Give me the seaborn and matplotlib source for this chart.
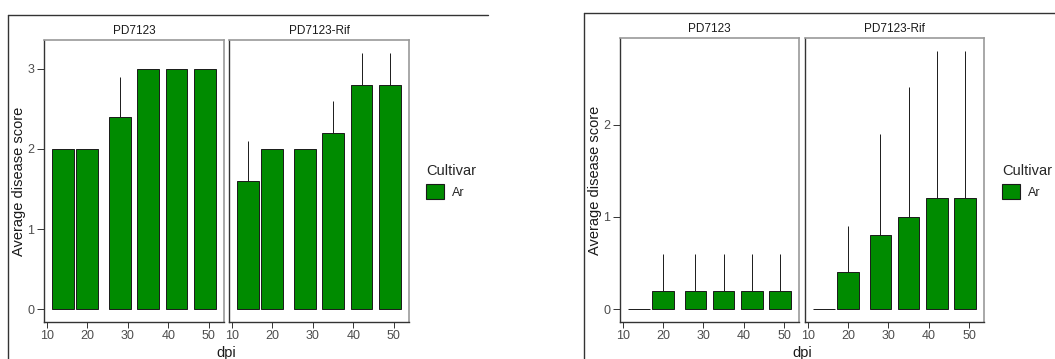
import numpy as np
import pandas as pd
import matplotlib
matplotlib.use('Agg')
import matplotlib.pyplot as plt
from matplotlib.lines import Line2D
from matplotlib.patches import Patch
import seaborn as sns

# data
dpi = [14, 20, 28, 35, 42, 49]
strains = ['PD7123', 'PD7123-Rif']
cultivar = 'Ar'

# left chart
left_pd7123 = [2.0, 2.0, 2.4, 3.0, 3.0, 3.0]
left_pd7123_se = [0, 0, 0.5, 0, 0, 0]
left_rif = [1.6, 2.0, 2.0, 2.2, 2.8, 2.8]
left_rif_se = [0.5, 0, 0, 0.4, 0.4, 0.4]

# right chart
right_pd7123 = [0.0, 0.2, 0.2, 0.2, 0.2, 0.2]
right_pd7123_se = [0, 0.4, 0.4, 0.4, 0.4, 0.4]
right_rif = [0.0, 0.4, 0.8, 1.0, 1.2, 1.2]
right_rif_se = [0, 0.5, 1.1, 1.41, 1.6, 1.6]

GREEN = '#008B00'
DARK = '#333333'
TEXT = '#4D4D4D'
W, H = 1055, 359

sns.set_style('white')
plt.rcParams['font.family'] = ['Liberation Sans', 'DejaVu Sans']

fig = plt.figure(figsize=(W / 100, H / 100), dpi=100)


def px_axes(x0, y0, x1, y1):
    return fig.add_axes([x0 / W, 1 - y1 / H, (x1 - x0) / W, (y1 - y0) / H])


def draw_chart(boxes, means, ses, yticks, ylab_x, leg_x, frame):
    ymax = max(max(np.add(m, s)) for m, s in zip(means, ses))
    ylim = (-0.05 * ymax, ymax * 1.05)
    half = 0.45 * min(np.diff(dpi))
    span = max(dpi) - min(dpi) + 2 * half
    xlim = (min(dpi) - half - 0.05 * span, max(dpi) + half + 0.05 * span)

    for i, (box, m, s, strain) in enumerate(zip(boxes, means, ses, strains)):
        ax = px_axes(*box)
        df = pd.DataFrame({'dpi': dpi, 'score': m, 'se': s, 'Cultivar': cultivar})
        # error bars (upper half only, like the original)
        err = df[df['se'] > 0]
        ax.vlines(err['dpi'], err['score'], err['score'] + err['se'],
                  color='#1a1a1a', lw=0.7, zorder=1)
        sns.barplot(data=df, x='dpi', y='score', hue='Cultivar', palette=[GREEN],
                    saturation=1, native_scale=True, width=0.9, dodge=False,
                    errorbar=None, edgecolor='#1a1a1a', linewidth=0.7,
                    legend=False, ax=ax, zorder=2)
        ax.set_xlim(*xlim)
        ax.set_ylim(*ylim)
        ax.set_xticks([10, 20, 30, 40, 50])
        ax.set_xlabel('')
        ax.set_ylabel('')
        ax.tick_params(axis='x', bottom=True, length=4, width=0.7, color=DARK,
                       labelsize=9, labelcolor=TEXT, pad=2)
        if i == 0:
            ax.set_yticks(yticks)
            ax.tick_params(axis='y', left=True, length=5, width=0.7, color=DARK,
                           labelsize=9, labelcolor=TEXT, pad=2)
        else:
            ax.set_yticks([])
        for side in ['left', 'bottom']:
            ax.spines[side].set_color(DARK)
            ax.spines[side].set_linewidth(1.0)
        for side in ['top', 'right']:
            ax.spines[side].set_color('#9a9a9a')
            ax.spines[side].set_linewidth(1.2)
        ax.set_title(strain, fontsize=8.5, color='#1a1a1a', pad=4)

    x_mid = (boxes[0][0] + boxes[1][2]) / 2
    y_mid = (boxes[0][1] + boxes[0][3]) / 2
    fig.text(ylab_x / W, 1 - y_mid / H, 'Average disease score', rotation=90,
             ha='center', va='center', fontsize=10.5, color='#1a1a1a')
    fig.text(x_mid / W, 1 - 357 / H, 'dpi', ha='center', va='baseline',
             fontsize=10.5, color='#1a1a1a')

    handle = Patch(facecolor=GREEN, edgecolor='#1a1a1a', linewidth=0.8)
    leg = fig.legend([handle], [cultivar], title='Cultivar', loc='upper left',
                     bbox_to_anchor=(leg_x / W, 1 - 164 / H), frameon=False,
                     fontsize=9, title_fontsize=10.5, borderpad=0,
                     handlelength=1.45, handleheight=1.45, handletextpad=0.6,
                     borderaxespad=0)
    leg._legend_box.align = 'left'

    fx, fy, fx1 = frame
    fig.add_artist(Line2D([fx / W, fx1 / W], [1 - fy / H, 1 - fy / H],
                          color=DARK, lw=1.0))
    fig.add_artist(Line2D([fx / W, fx / W], [1 - fy / H, 0], color=DARK, lw=1.0))


draw_chart([(44, 40, 224, 322), (229, 40, 409, 322)],
           [left_pd7123, left_rif], [left_pd7123_se, left_rif_se],
           [0, 1, 2, 3], 19, 426, (7.5, 14.5, 488))
draw_chart([(620, 38, 799, 322), (805, 38, 984, 322)],
           [right_pd7123, right_rif], [right_pd7123_se, right_rif_se],
           [0, 1, 2], 595, 1002, (583.5, 12.5, 1055))

fig.savefig('out.png', dpi=100)
